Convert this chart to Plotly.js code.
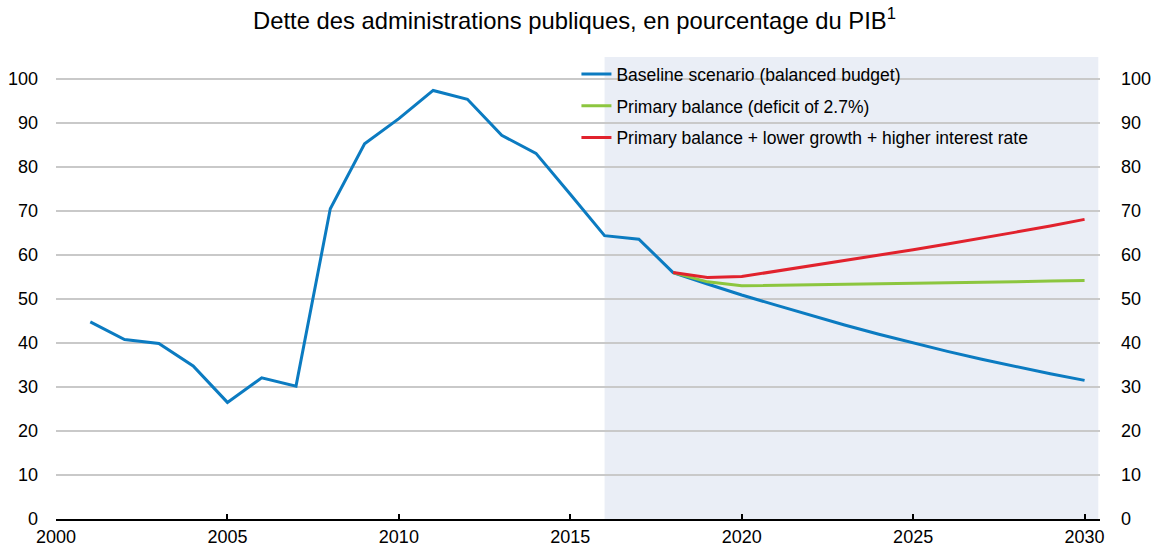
<!DOCTYPE html>
<html>
<head>
<meta charset="utf-8">
<script src="https://cdn.plot.ly/plotly-3.0.1.min.js"></script>
<style>
  html, body { margin: 0; padding: 0; background: #ffffff; }
  #chart { width: 1156px; height: 547px; }
</style>
</head>
<body>
<div id="chart"></div>
<script>
// ---- Data ----
const titleText = "Dette des administrations publiques, en pourcentage du PIB<sup>1</sup>";

const seriesNames = [
  "Baseline scenario (balanced budget)",
  "Primary balance (deficit of 2.7%)",
  "Primary balance + lower growth + higher interest rate"
];

const baselineYears = [2001, 2002, 2003, 2004, 2005, 2006, 2007, 2008, 2009, 2010,
                       2011, 2012, 2013, 2014, 2015, 2016, 2017, 2018, 2019, 2020,
                       2021, 2022, 2023, 2024, 2025, 2026, 2027, 2028, 2029, 2030];
const baselineValues = [44.8, 40.8, 39.9, 34.8, 26.5, 32.1, 30.2, 70.5, 85.3, 91.0,
                        97.4, 95.4, 87.2, 83.1, 73.8, 64.4, 63.6, 56.0, 53.4, 50.9,
                        48.6, 46.3, 44.1, 42.0, 40.0, 38.1, 36.3, 34.6, 33.0, 31.5];

const scenarioYears = [2018, 2019, 2020, 2021, 2022, 2023, 2024, 2025, 2026, 2027, 2028, 2029, 2030];
const primaryValues = [56.0, 53.9, 53.0, 53.1, 53.2, 53.3, 53.4, 53.5, 53.7, 53.8, 53.9, 54.1, 54.2];
const stressValues  = [56.0, 54.9, 55.1, 56.3, 57.5, 58.7, 60.0, 61.2, 62.5, 63.8, 65.2, 66.6, 68.1];

const projectionStart = 2016;
const xTickVals = [2000, 2005, 2010, 2015, 2020, 2025, 2030];
const yTickVals = [0, 10, 20, 30, 40, 50, 60, 70, 80, 90, 100];

// ---- Style ----
const colors = ["#0b7bc1", "#8cc63f", "#e1222d"];
const narrow = "Liberation Sans Narrow, Arial Narrow, Liberation Sans, Arial, sans-serif";
const regular = "Liberation Sans, Arial, sans-serif";

const traces = [
  {
    x: baselineYears, y: baselineValues, name: seriesNames[0],
    type: "scatter", mode: "lines", legendgroup: "a",
    line: { color: colors[0], width: 3 }
  },
  {
    x: scenarioYears, y: primaryValues, name: seriesNames[1],
    type: "scatter", mode: "lines", legendgroup: "b",
    line: { color: colors[1], width: 3 }
  },
  {
    x: scenarioYears, y: stressValues, name: seriesNames[2],
    type: "scatter", mode: "lines", legendgroup: "c", yaxis: "y2",
    line: { color: colors[2], width: 3 }
  }
];

const layout = {
  width: 1156,
  height: 547,
  paper_bgcolor: "#ffffff",
  plot_bgcolor: "rgba(0,0,0,0)",
  margin: { l: 56, r: 56, t: 57, b: 28, pad: 0 },
  title: {
    text: titleText,
    font: { family: regular, size: 23.8, color: "#000000" },
    x: 0.497, xanchor: "center",
    y: 0.963, yanchor: "middle"
  },
  showlegend: true,
  legend: {
    x: 0.4985, xanchor: "left",
    y: 1.002, yanchor: "top",
    bgcolor: "rgba(0,0,0,0)",
    font: { family: narrow, size: 17.5, color: "#000000" },
    tracegroupgap: 6,
    traceorder: "grouped"
  },
  xaxis: {
    range: [2000, 2030.45],
    tickvals: xTickVals,
    ticktext: xTickVals.map(String),
    showgrid: false,
    zeroline: false,
    showline: true,
    linecolor: "#000000",
    linewidth: 2,
    ticks: "inside",
    ticklen: 5,
    tickwidth: 2,
    tickcolor: "#000000",
    tickfont: { family: narrow, size: 18, color: "#000000" },
    fixedrange: true
  },
  yaxis: {
    range: [0, 105],
    tickvals: yTickVals,
    showgrid: true,
    gridcolor: "#c9c9c9",
    gridwidth: 1.5,
    zeroline: false,
    showline: false,
    ticks: "",
    ticklabelstandoff: 17,
    tickfont: { family: narrow, size: 18, color: "#000000" },
    fixedrange: true
  },
  yaxis2: {
    overlaying: "y",
    side: "right",
    range: [0, 105],
    tickvals: yTickVals,
    showgrid: false,
    zeroline: false,
    showline: false,
    ticks: "",
    ticklabelstandoff: 20,
    tickfont: { family: narrow, size: 18, color: "#000000" },
    fixedrange: true
  },
  shapes: [
    {
      type: "rect", layer: "below",
      xref: "x", yref: "paper",
      x0: projectionStart, x1: 2030.4,
      y0: 0, y1: 1,
      fillcolor: "#eaeef6",
      line: { width: 0 }
    }
  ]
};

Plotly.newPlot("chart", traces, layout, { displayModeBar: false, staticPlot: true });
</script>
</body>
</html>
